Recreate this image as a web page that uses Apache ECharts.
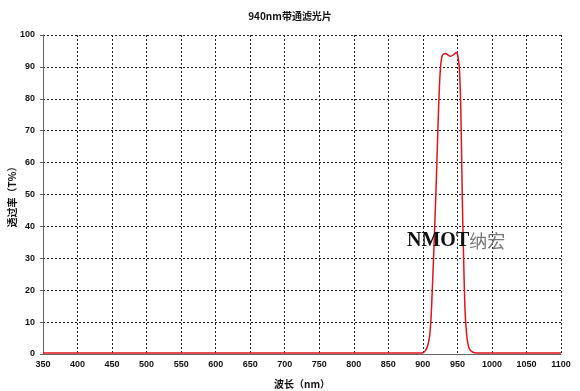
<!DOCTYPE html>
<html><head><meta charset="utf-8">
<script src="https://cdn.jsdelivr.net/npm/echarts@6/dist/echarts.min.js"></script>
<style>html,body{margin:0;padding:0;background:#fff}#c{width:580px;height:391px}</style>
</head><body><div id="c"></div>
<script>
const wavelengths = [350,400,450,500,550,600,650,700,750,800,850,895,900,903,906,908,910,912,914,916,918,920,922,924,926,928,930,933,936,940,944,947,949,951,953,955,957,959,961,963,965,967,970,975,985,1000,1050,1100];
const transmittance = [0.3,0.3,0.3,0.3,0.3,0.3,0.3,0.3,0.3,0.3,0.3,0.3,0.4,0.9,2,3.5,6,12,22,33,45,58,72,84,91,93.5,94,94.2,93.8,93.3,93.8,94.3,94.5,93,89,76,50,30,14,7,3.5,1.8,0.9,0.4,0.3,0.3,0.3,0.3];
const xTicks = [350,1100,50];
const yTicks = [0,100,10];
const titleText = '940nm带通滤光片';
const xName = '波长（nm）';
const yName = '透过率（T%）';

const chart = echarts.init(document.getElementById('c'));
const lbl = {color:'#111', fontSize:9, fontWeight:'bold', fontFamily:'Liberation Sans', formatter:v=>String(v)};
const split = {show:true, lineStyle:{color:'#222', type:[2,2], width:1}};
chart.setOption({
  animation:false,
  backgroundColor:'#fff',
  title:{text:titleText, left:'center', top:6, textStyle:{fontSize:10, fontWeight:'bold', fontFamily:'Noto Sans CJK SC', color:'#111'}},
  grid:{left:43, right:19, top:35, bottom:37, containLabel:false, outerBoundsMode:'none'},
  xAxis:{type:'value', min:xTicks[0], max:xTicks[1], interval:xTicks[2],
    name:xName, nameLocation:'middle', nameGap:25, nameMoveOverlap:false,
    nameTextStyle:{fontSize:10, fontWeight:'bold', fontFamily:'Noto Sans CJK SC', color:'#111'},
    axisLine:{lineStyle:{color:'#666'}}, axisTick:{show:false},
    axisLabel:Object.assign({margin:6}, lbl), splitLine:split},
  yAxis:{type:'value', min:yTicks[0], max:yTicks[1], interval:yTicks[2],
    name:yName, nameLocation:'middle', nameGap:26, nameRotate:90, nameMoveOverlap:false,
    nameTextStyle:{fontSize:10, fontWeight:'bold', fontFamily:'Noto Sans CJK SC', color:'#111'},
    axisLine:{show:true, lineStyle:{color:'#666'}}, axisTick:{show:true, length:3, lineStyle:{color:'#666'}},
    axisLabel:Object.assign({margin:8}, lbl), splitLine:split},
  series:[{type:'line', data:wavelengths.map((w,i)=>[w,transmittance[i]]), showSymbol:false, smooth:0.3,
    lineStyle:{color:'#e0141c', width:1.5}, z:5}],
  graphic:[{type:'text', left:407, top:231, z:10, style:{
    text:'{a|NMOT}{b|纳宏}',
    rich:{a:{fontFamily:'Liberation Serif', fontWeight:'bold', fontSize:20, fill:'#111'},
          b:{fontFamily:'Noto Sans CJK SC', fontSize:18, fill:'#777'}}}}]
});
</script></body></html>
